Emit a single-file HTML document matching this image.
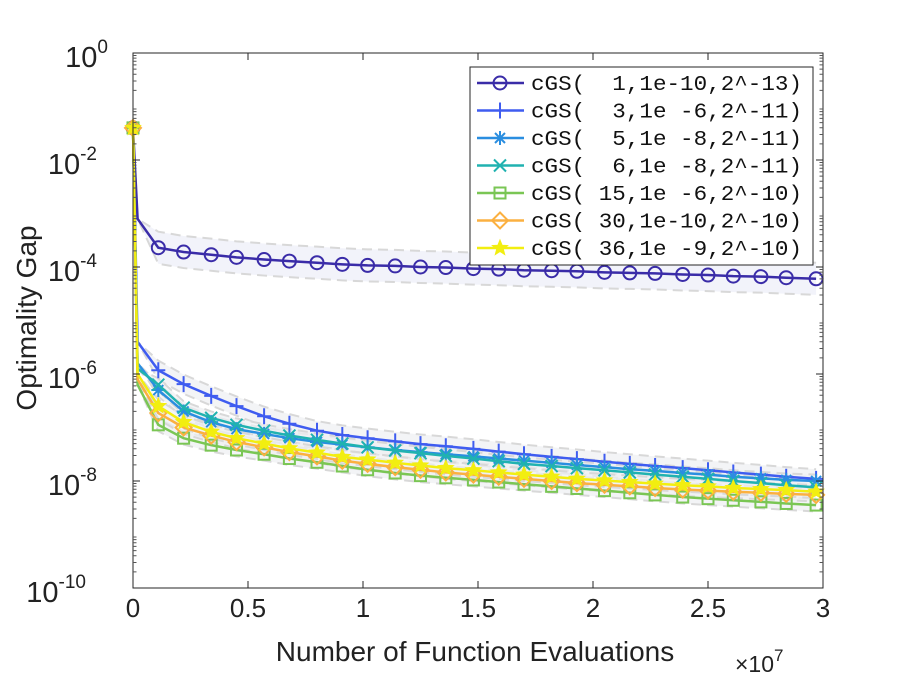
<!DOCTYPE html>
<html><head><meta charset="utf-8"><style>
body{margin:0;background:#fff;}
svg text{font-family:"Liberation Sans",sans-serif;fill:#222;}
</style></head><body>
<svg id="chart" width="913" height="686" xmlns="http://www.w3.org/2000/svg">
<g id="bands"></g>
<g id="lines"></g>
<g id="axes"></g>
<g id="legend"></g>
</svg>
<script>
const xVals=[0,0.02,0.11,0.22,0.34,0.45,0.57,0.68,0.8,0.91,1.02,1.14,1.25,1.36,1.48,1.59,1.7,1.82,1.93,2.05,2.16,2.27,2.39,2.5,2.61,2.73,2.84,2.97];
const s1=[-1.4,-3.1,-3.64,-3.72,-3.77,-3.82,-3.86,-3.89,-3.92,-3.95,-3.97,-3.98,-4.0,-4.01,-4.03,-4.04,-4.06,-4.07,-4.08,-4.1,-4.11,-4.12,-4.14,-4.15,-4.17,-4.18,-4.2,-4.22];
const s2=[-1.4,-5.4,-5.93,-6.19,-6.41,-6.6,-6.79,-6.93,-7.06,-7.14,-7.2,-7.26,-7.31,-7.35,-7.4,-7.45,-7.5,-7.55,-7.59,-7.64,-7.68,-7.72,-7.76,-7.8,-7.84,-7.88,-7.92,-7.96];
const s3=[-1.4,-5.8,-6.3,-6.7,-6.9,-7.03,-7.12,-7.2,-7.27,-7.32,-7.37,-7.42,-7.46,-7.5,-7.54,-7.58,-7.62,-7.66,-7.7,-7.74,-7.78,-7.81,-7.85,-7.88,-7.92,-7.95,-7.98,-8.0];
const s4=[-1.4,-5.9,-6.2,-6.63,-6.82,-6.95,-7.06,-7.15,-7.23,-7.3,-7.37,-7.43,-7.48,-7.53,-7.58,-7.63,-7.68,-7.72,-7.76,-7.8,-7.84,-7.88,-7.92,-7.96,-8.0,-8.04,-8.08,-8.12];
const s5=[-1.4,-6.2,-6.95,-7.2,-7.33,-7.42,-7.5,-7.58,-7.65,-7.72,-7.79,-7.85,-7.9,-7.94,-7.98,-8.02,-8.06,-8.1,-8.14,-8.18,-8.22,-8.26,-8.3,-8.33,-8.36,-8.39,-8.42,-8.45];
const s6=[-1.4,-6.1,-6.73,-7.0,-7.15,-7.27,-7.37,-7.46,-7.54,-7.62,-7.68,-7.74,-7.79,-7.84,-7.88,-7.92,-7.96,-8.0,-8.04,-8.07,-8.1,-8.13,-8.16,-8.18,-8.2,-8.22,-8.24,-8.26];
const s7=[-1.4,-6.0,-6.6,-6.9,-7.08,-7.2,-7.3,-7.39,-7.47,-7.55,-7.6,-7.66,-7.71,-7.76,-7.8,-7.84,-7.88,-7.92,-7.96,-7.99,-8.02,-8.05,-8.08,-8.1,-8.13,-8.15,-8.17,-8.2];
const seriesNames=["cGS(  1,1e-10,2^-13)","cGS(  3,1e -6,2^-11)","cGS(  5,1e -8,2^-11)","cGS(  6,1e -8,2^-11)","cGS( 15,1e -6,2^-10)","cGS( 30,1e-10,2^-10)","cGS( 36,1e -9,2^-10)"];
const xTicks=[0,0.5,1,1.5,2,2.5,3];
const xTickLabels=["0","0.5","1","1.5","2","2.5","3"];
const yTicks=[0,-2,-4,-6,-8,-10];

const NS="http://www.w3.org/2000/svg";
const L=133,R=823,T=53,B=588;
const xs=v=>L+(v/3)*(R-L);
const ys=v=>T+(0-v)/10*(B-T);
function mk(tag,attrs,parent){const e=document.createElementNS(NS,tag);for(const k in attrs)e.setAttribute(k,attrs[k]);parent.appendChild(e);return e;}
const series=[s1,s2,s3,s4,s5,s6,s7];
const colors=["#3a2ca8","#3f5cf0","#2a8ee0","#20b2b0","#7ac654","#fbb040","#f2ee10"];
const markers=["circle","plus","star","x","square","diamond","pent"];
const bandW=[0.3,0.18,0.12,0.12,0.12,0.12,0.12];
const bands=document.getElementById('bands'),lines=document.getElementById('lines'),axes=document.getElementById('axes'),legend=document.getElementById('legend');

function marker(type,cx,cy,c,g){
  let e;
  const st={fill:"none",stroke:c,"stroke-width":2};
  if(type==="circle"){e=mk('circle',Object.assign({cx,cy,r:6.5},st),g);}
  else if(type==="plus"){e=mk('path',Object.assign({d:`M${cx-7} ${cy}H${cx+7}M${cx} ${cy-8}V${cy+8}`},st),g);}
  else if(type==="x"){e=mk('path',Object.assign({d:`M${cx-6} ${cy-6}L${cx+6} ${cy+6}M${cx-6} ${cy+6}L${cx+6} ${cy-6}`},st),g);}
  else if(type==="star"){e=mk('path',Object.assign({d:`M${cx-7} ${cy}H${cx+7}M${cx} ${cy-7}V${cy+7}M${cx-5} ${cy-5}L${cx+5} ${cy+5}M${cx-5} ${cy+5}L${cx+5} ${cy-5}`},st),g);}
  else if(type==="square"){e=mk('rect',Object.assign({x:cx-5.5,y:cy-5.5,width:11,height:11},st),g);}
  else if(type==="diamond"){e=mk('path',Object.assign({d:`M${cx} ${cy-8}L${cx+8} ${cy}L${cx} ${cy+8}L${cx-8} ${cy}Z`},st),g);}
  else {let p=[];for(let i=0;i<10;i++){const r=i%2?3.5:8,a=-Math.PI/2+i*Math.PI/5;p.push((cx+r*Math.cos(a)).toFixed(1)+','+(cy+r*Math.sin(a)).toFixed(1));}
    e=mk('polygon',{points:p.join(' '),fill:c,stroke:c,"stroke-width":1},g);}
  return e;
}

series.forEach((s,i)=>{
  const up=s.map((v,j)=>xs(xVals[j])+','+ys(v+(j<2?0:bandW[i]))),
        lo=s.map((v,j)=>xs(xVals[j])+','+ys(v-(j<2?0:bandW[i])));
  const band=mk('polygon',{points:up.concat(lo.slice().reverse()).join(' '),fill:i===0?"#eceef8":"#eef0f2","fill-opacity":0.7,stroke:"none"},bands);
  
  
  const ub=mk('polyline',{points:up.join(' '),fill:"none",stroke:"#d8d8d8","stroke-width":2,"stroke-dasharray":"10 6"},bands);
  
  
  const lb=mk('polyline',{points:lo.join(' '),fill:"none",stroke:"#d8d8d8","stroke-width":2,"stroke-dasharray":"10 6"},bands);
  
  
});
series.forEach((s,i)=>{
  const g=mk('g',{},lines);
  
  
  const pl=mk('polyline',{points:s.map((v,j)=>xs(xVals[j])+','+ys(v)).join(' '),fill:"none",stroke:colors[i],"stroke-width":2.5},g);
  
  
  s.forEach((v,j)=>{ if(j===1) return;
    const m=marker(markers[i],xs(xVals[j]),ys(v),colors[i],g);
    
    
  });
});

const box=mk('rect',{x:L,y:T,width:R-L,height:B-T,fill:"none",stroke:"#262626","stroke-width":1},axes);


xTicks.forEach((t,i)=>{
  const x=xs(t);
  mk('path',{d:`M${x} ${B}V${B-7}M${x} ${T}V${T+7}`,stroke:"#262626","stroke-width":1},axes);
  const tx=mk('text',{x:x,y:B+29,"text-anchor":"middle","font-size":26},axes);
  tx.textContent=xTickLabels[i];
  
  
});
for(let d=0;d>-10;d--){for(let k=2;k<10;k++){const y=ys(d-1+Math.log10(k));
  mk('path',{d:`M${L} ${y}H${L+3.5}M${R} ${y}H${R-3.5}`,stroke:"#555","stroke-width":1},axes);}}
yTicks.forEach(t=>{
  const y=ys(t);
  mk('path',{d:`M${L} ${y}H${L+7}M${R} ${y}H${R-7}`,stroke:"#262626","stroke-width":1},axes);
  const tx=mk('text',{x:0,y:y+14,"font-size":29},axes);
  
  
  const b=document.createElementNS(NS,'tspan');b.textContent="10";tx.appendChild(b);
  const sp=document.createElementNS(NS,'tspan');sp.setAttribute('dy','-14');sp.setAttribute('font-size','19');sp.textContent=String(t);tx.appendChild(sp);
  tx.setAttribute('x',L-14-(String(t).length*11));
  tx.setAttribute('text-anchor','end');
});
const xl=mk('text',{x:475,y:661,"text-anchor":"middle","font-size":28},axes);
xl.textContent="Number of Function Evaluations";


const ex=mk('text',{x:735,y:672,"font-size":23},axes);


ex.innerHTML='×10<tspan dy="-11" font-size="17">7</tspan>';
const yl=mk('text',{x:0,y:0,"text-anchor":"middle","font-size":28,transform:"translate(36,318) rotate(-90)"},axes);
yl.textContent="Optimality Gap";



const lb=mk('rect',{x:470,y:67,width:343,height:198,fill:"#fff",stroke:"#262626","stroke-width":1},legend);


seriesNames.forEach((n,i)=>{
  const y=83+i*27.5;
  const g=mk('g',{},legend);
  
  
  mk('path',{d:`M477 ${y}H524`,stroke:colors[i],"stroke-width":2.5},g);
  marker(markers[i],500,y,colors[i],g);
  const t=mk('text',{x:531,y:y+7,"font-size":21,textLength:271,"lengthAdjust":"spacingAndGlyphs"},g);
  t.setAttribute('style','font-family:"Liberation Mono",monospace;white-space:pre;fill:#111');
  t.textContent=n;
});
</script>
</body></html>
